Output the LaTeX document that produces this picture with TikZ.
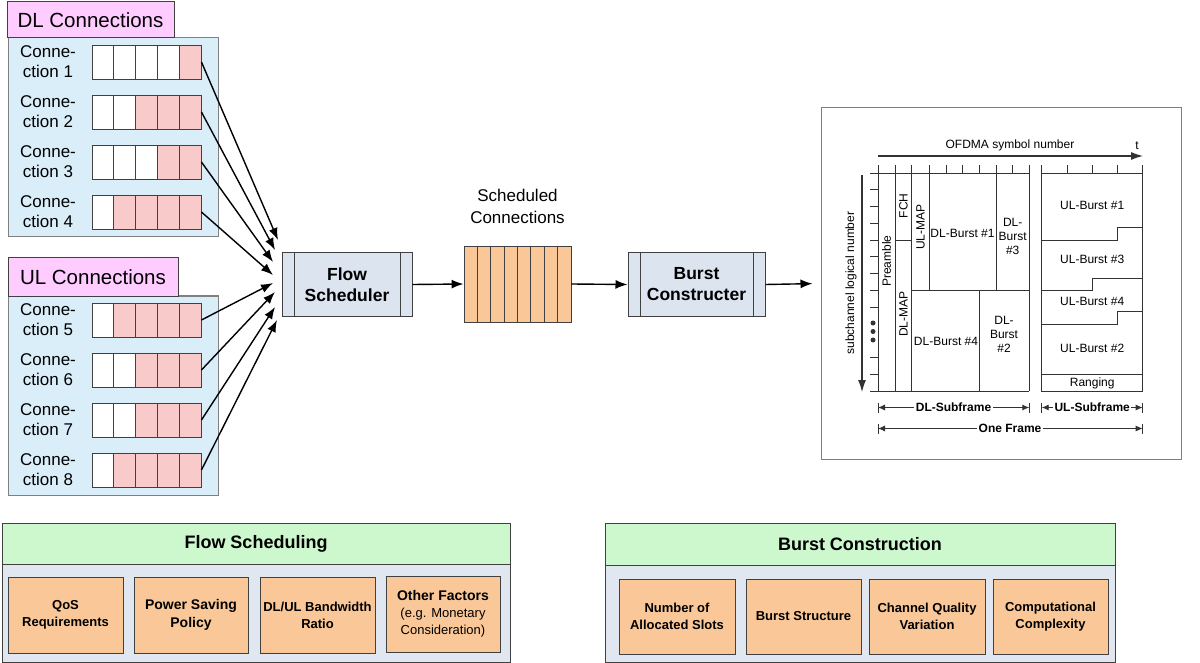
\documentclass[tikz,border=0pt]{standalone}
\usepackage{fontspec}
\setmainfont{Liberation Sans}
\usetikzlibrary{arrows.meta}
\definecolor{pinklbl}{HTML}{FFCCFF}
\definecolor{panelblue}{HTML}{DAEEFA}
\definecolor{cellpink}{HTML}{F9CACA}
\definecolor{boxblue}{HTML}{DCE4F0}
\definecolor{qorange}{HTML}{FAC898}
\definecolor{hdrgreen}{HTML}{CDF7CD}
\definecolor{bodygray}{HTML}{E1E7F0}
\definecolor{edge}{HTML}{404040}
\definecolor{framegray}{HTML}{808080}
\definecolor{ink}{HTML}{333333}
\newcommand\fsz[2]{\fontsize{#1}{#2}\selectfont}
\tikzset{
  lblbox/.style={draw=edge, line width=1pt, fill=pinklbl, inner sep=0pt, font=\fsz{20.5}{24}},
  panel/.style={draw=framegray, line width=1pt, fill=panelblue, inner sep=0pt},
  cell/.style={draw=edge, line width=0.9pt, minimum width=21.8pt, minimum height=34pt, inner sep=0pt},
  connlbl/.style={align=center, font=\fsz{17}{20}, inner sep=0pt},
  conn/.style={line width=1.4pt, -{Latex[length=12pt,width=9pt]}},
  proc/.style={draw=edge, fill=boxblue, line width=1pt, align=center, inner sep=0pt, font=\bfseries\fsz{17.5}{21}},
  qcell/.style={draw=edge, fill=qorange, line width=0.9pt, minimum width=13.375pt, minimum height=76pt, inner sep=0pt},
  plain/.style={align=center, inner sep=0pt},
  grid/.style={draw=ink, line width=0.9pt},
  ftxt/.style={align=center, inner sep=0pt, font=\fsz{12}{14}},
  dimtxt/.style={fill=white, inner sep=1.5pt, font=\bfseries\fsz{12}{14}},
  dimarr/.style={line width=0.9pt, draw=ink, {Latex[length=7pt,width=6pt]}-{Latex[length=7pt,width=6pt]}},
  hdr/.style={draw=edge, line width=1pt, fill=hdrgreen, inner sep=0pt, font=\bfseries\fsz{18}{22}},
  bodyp/.style={draw=edge, line width=1pt, fill=bodygray, inner sep=0pt},
  fac/.style={draw=edge, line width=0.9pt, fill=qorange, align=center, inner sep=0pt, font=\bfseries\fsz{13}{17}}
}
\begin{document}
\begin{tikzpicture}[x=1pt,y=-1pt]
\useasboundingbox (0,0) rectangle (1200,663);

% ---------- DL / UL connection panels ----------
\node[panel, minimum width=210pt, minimum height=199pt] (dlp) at (113,137.5) {};
\node[lblbox, minimum width=167pt, minimum height=36pt] (dll) at (90.5,20) {DL Connections};
\node[panel, minimum width=210pt, minimum height=199pt] (ulp) at (113,395.5) {};
\node[lblbox, minimum width=170pt, minimum height=38pt] (ull) at (93,277) {UL Connections};

\foreach \q/\cy/\np in {1/62/1,2/112/3,3/162/2,4/212/4,5/320/4,6/370/3,7/420/3,8/470/4}{
  \node[connlbl] (lab\q) at (48,\cy) {Conne-\\ction \q};
  \foreach \k in {1,...,5}{
    \ifnum\k>\numexpr5-\np\relax\def\cc{cellpink}\else\def\cc{white}\fi
    \node[cell, fill=\cc] (q\q c\k) at ({92+21.8*(\k-0.5)},\cy) {};
  }
}

% ---------- Flow scheduler ----------
\node[proc, minimum width=130pt, minimum height=63pt] (fs) at (347,284.5) {Flow\\Scheduler};
\draw[draw=edge, line width=0.9pt] ([xshift=13pt]fs.north west) -- ([xshift=13pt]fs.south west);
\draw[draw=edge, line width=0.9pt] ([xshift=-12pt]fs.north east) -- ([xshift=-12pt]fs.south east);

\foreach \q/\tx/\ty in {1/278/240,2/275/250,3/273/262,4/273/275,5/273/283,6/275/292,7/275/307,8/277/320}{
  \coordinate (tip\q) at (\tx,\ty);
  \draw[conn] (q\q c5.east) -- (tip\q);
}

% ---------- Scheduled connections ----------
\foreach \i in {1,...,8}{
  \node[qcell] (sc\i) at ({464+13.375*(\i-0.5)},284) {};
}
\node[plain, font=\fsz{17}{22}] (sclbl) at (517.5,206) {Scheduled\\Connections};

% ---------- Burst constructer ----------
\node[proc, minimum width=137pt, minimum height=63pt] (bc) at (696.5,284.5) {Burst\\Constructer};
\draw[draw=edge, line width=0.9pt] ([xshift=13pt]bc.north west) -- ([xshift=13pt]bc.south west);
\draw[draw=edge, line width=0.9pt] ([xshift=-12pt]bc.north east) -- ([xshift=-12pt]bc.south east);

% ---------- Frame ----------
\node[draw=framegray, line width=1pt, fill=white, minimum width=360pt, minimum height=351pt, inner sep=0pt] (frame) at (1001,283.5) {};

\draw[conn] (fs.east) -- (sc1.west);
\draw[conn] (sc8.east) -- (bc.west);
\draw[conn, shorten >=8pt] (bc.east) -- (frame.west);

% time axis
\coordinate (ta0) at (878,156);
\coordinate (ta1) at (1143,156);
\draw[line width=1.1pt, draw=ink, -{Latex[length=12pt,width=8pt]}] (ta0) -- (ta1);
\node[ftxt] (ofdma) at (1010,145) {OFDMA symbol number};
\node[ftxt] (tlbl) at (1137,146) {t};

% subchannel axis
\coordinate (sa0) at (862,175);
\coordinate (sa1) at (862,392);
\draw[line width=1.1pt, draw=ink, -{Latex[length=12pt,width=8pt]}] (sa0) -- (sa1);
\node[ftxt, rotate=90] (sublbl) at (851,283) {subchannel logical number};
\foreach \d in {323,331.5,340}{ \fill[ink] (873,\d) circle (2.5pt); }

% top line and ticks
\draw[grid] (870,173) -- (1029.3,173);
\draw[grid] (1041.7,173) -- (1142.7,173);
\foreach \tx in {878,895,911.7,929,946,962.7,979,996,1012.7,1029.3,1041.7,1067.3,1092.7,1117.7,1142.7}{
  \draw[grid] (\tx,165) -- (\tx,173);
}
% left ticks
\foreach \k in {1,...,8,11,12}{
  \draw[grid] (870,{173+16.77*\k}) -- (878,{173+16.77*\k});
}
% DL subframe grid
\draw[grid] (870,391) -- (1029.3,391);
\draw[grid] (878,173) -- (878,391);
\draw[grid] (895,173) -- (895,391);
\draw[grid] (911.7,173) -- (911.7,391);
\draw[grid] (929,173) -- (929,290);
\draw[grid] (996,173) -- (996,290);
\draw[grid] (979,290) -- (979,391);
\draw[grid] (1029.3,173) -- (1029.3,391);
\draw[grid] (895,240) -- (911.7,240);
\draw[grid] (911.7,290) -- (1029.3,290);

\node[ftxt, rotate=90] (pre) at (886.5,261) {Preamble};
\node[ftxt, rotate=90] (fch) at (903.5,206) {FCH};
\node[ftxt, rotate=90] (dlmap) at (903.5,314) {DL-MAP};
\node[ftxt, rotate=90] (ulmap) at (920.5,227) {UL-MAP};
\node[ftxt] (dlb1) at (962.5,233) {DL-Burst \#1};
\node[ftxt] (dlb3) at (1012.7,236) {DL-\\Burst\\\#3};
\node[ftxt] (dlb4) at (946,341) {DL-Burst \#4};
\node[ftxt] (dlb2) at (1004,334) {DL-\\Burst\\\#2};

% UL subframe grid
\draw[grid] (1041.7,173) rectangle (1142.7,391);
\draw[grid] (1041.7,240) -- (1117.7,240) -- (1117.7,227.7) -- (1142.7,227.7);
\draw[grid] (1041.7,290.7) -- (1092.7,290.7) -- (1092.7,278.3) -- (1142.7,278.3);
\draw[grid] (1041.7,324) -- (1117.7,324) -- (1117.7,311.7) -- (1142.7,311.7);
\draw[grid] (1041.7,374.3) -- (1142.7,374.3);
\node[ftxt] (ulb1) at (1092.2,205) {UL-Burst \#1};
\node[ftxt] (ulb3) at (1092.2,259) {UL-Burst \#3};
\node[ftxt] (ulb4) at (1092.2,301) {UL-Burst \#4};
\node[ftxt] (ulb2) at (1092.2,348) {UL-Burst \#2};
\node[ftxt] (rng) at (1092.2,383) {Ranging};

% dimension lines
\coordinate (d1a) at (878,407.5);   \coordinate (d1b) at (1029.3,407.5);
\coordinate (d2a) at (1041.7,407.5); \coordinate (d2b) at (1142.7,407.5);
\coordinate (d3a) at (878,428.5);   \coordinate (d3b) at (1142.7,428.5);
\draw[dimarr] (d1a) -- (d1b);
\draw[dimarr] (d2a) -- (d2b);
\draw[dimarr] (d3a) -- (d3b);
\foreach \c in {d1a,d1b,d2a,d2b,d3a,d3b}{
  \draw[grid] ([yshift=-5pt]\c) -- ([yshift=5pt]\c);
}
\node[dimtxt] (dlsub) at (953.5,407.5) {DL-Subframe};
\node[dimtxt] (ulsub) at (1092.2,407.5) {UL-Subframe};
\node[dimtxt] (onef) at (1010,428.5) {One Frame};

% ---------- Bottom: Flow Scheduling ----------
\node[bodyp, minimum width=508pt, minimum height=98pt] (fsbody) at (256,613) {};
\node[hdr, minimum width=508pt, minimum height=41pt] (fshdr) at (256,543.5) {Flow Scheduling};
\node[fac, minimum width=115pt, minimum height=76pt] (f1) at (65.5,615) {QoS\\Requirements};
\node[fac, minimum width=114pt, minimum height=76pt, font=\bfseries\fsz{14}{18}] (f2) at (191,615) {Power Saving\\Policy};
\node[fac, minimum width=115pt, minimum height=76pt] (f3) at (317.5,615) {DL/UL Bandwidth\\Ratio};
\node[fac, minimum width=114pt, minimum height=76pt, font=\fsz{13}{17}] (f4) at (443,614) {{\bfseries\fsz{14}{19}Other Factors}\\(e.g. Monetary\\Consideration)};

% ---------- Bottom: Burst Construction ----------
\node[bodyp, minimum width=510pt, minimum height=97pt] (bcbody) at (860,613.5) {};
\node[hdr, minimum width=510pt, minimum height=42pt] (bchdr) at (860,544) {Burst Construction};
\node[fac, minimum width=116pt, minimum height=75pt] (b1) at (677,616.5) {Number of\\Allocated Slots};
\node[fac, minimum width=115pt, minimum height=75pt] (b2) at (803.5,616.5) {Burst Structure};
\node[fac, minimum width=116pt, minimum height=75pt] (b3) at (927,616.5) {Channel Quality\\Variation};
\node[fac, minimum width=115pt, minimum height=75pt] (b4) at (1050.5,616.5) {Computational\\Complexity};
\end{tikzpicture}
\end{document}
